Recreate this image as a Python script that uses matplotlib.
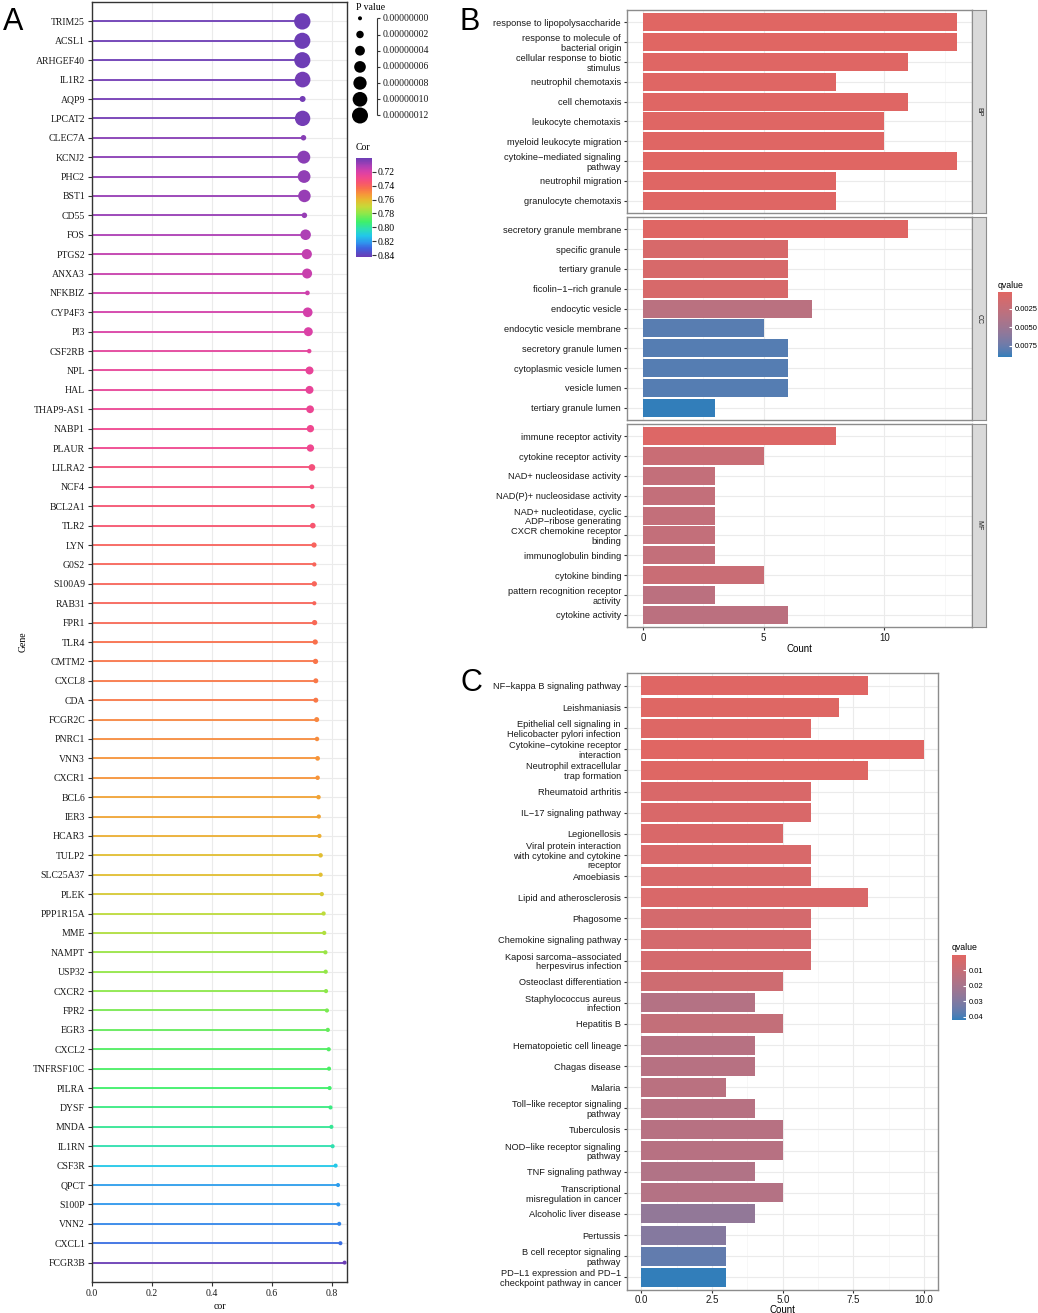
import numpy as np
import matplotlib
matplotlib.use('Agg')
import matplotlib.pyplot as plt
from matplotlib.colors import (LinearSegmentedColormap, ListedColormap,
                               Normalize, to_rgb)
from matplotlib.cm import ScalarMappable
from matplotlib.ticker import MultipleLocator, FormatStrFormatter

# ---- panel A data: genes, correlation, p value
genes = ['TRIM25', 'ACSL1', 'ARHGEF40', 'IL1R2', 'AQP9', 'LPCAT2', 'CLEC7A',
         'KCNJ2', 'PHC2', 'BST1', 'CD55', 'FOS', 'PTGS2', 'ANXA3', 'NFKBIZ',
         'CYP4F3', 'PI3', 'CSF2RB', 'NPL', 'HAL', 'THAP9-AS1', 'NABP1',
         'PLAUR', 'LILRA2', 'NCF4', 'BCL2A1', 'TLR2', 'LYN', 'G0S2', 'S100A9',
         'RAB31', 'FPR1', 'TLR4', 'CMTM2', 'CXCL8', 'CDA', 'FCGR2C', 'PNRC1',
         'VNN3', 'CXCR1', 'BCL6', 'IER3', 'HCAR3', 'TULP2', 'SLC25A37', 'PLEK',
         'PPP1R15A', 'MME', 'NAMPT', 'USP32', 'CXCR2', 'FPR2', 'EGR3', 'CXCL2',
         'TNFRSF10C', 'PILRA', 'DYSF', 'MNDA', 'IL1RN', 'CSF3R', 'QPCT',
         'S100P', 'VNN2', 'CXCL1', 'FCGR3B']
cor = [0.701, 0.701, 0.701, 0.702, 0.702, 0.702, 0.705, 0.706, 0.707, 0.708,
       0.708, 0.712, 0.716, 0.717, 0.718, 0.719, 0.721, 0.724, 0.725, 0.725,
       0.727, 0.728, 0.728, 0.733, 0.733, 0.735, 0.736, 0.740, 0.741, 0.741,
       0.741, 0.742, 0.744, 0.745, 0.746, 0.746, 0.749, 0.750, 0.752, 0.752,
       0.755, 0.756, 0.758, 0.762, 0.762, 0.766, 0.772, 0.774, 0.778, 0.779,
       0.780, 0.783, 0.786, 0.789, 0.790, 0.792, 0.795, 0.798, 0.802, 0.812,
       0.820, 0.821, 0.824, 0.828, 0.842]
pval = [1.25e-7, 1.22e-7, 1.22e-7, 1.15e-7, 1.0e-8, 1.1e-7, 7e-9, 7.6e-8,
        7.3e-8, 7.0e-8, 7e-9, 4.8e-8, 4.4e-8, 4.2e-8, 3e-9, 3.9e-8, 3.2e-8,
        2e-9, 2.4e-8, 2.4e-8, 2.2e-8, 1.9e-8, 1.9e-8, 1.45e-8, 3e-9, 3e-9,
        8e-9, 6e-9, 1e-9, 6e-9, 0.5e-9, 6e-9, 6e-9, 6e-9, 4.5e-9, 4.5e-9,
        4.5e-9, 2e-9, 3e-9, 2e-9, 2e-9, 1e-9, 1e-9, 2e-9, 1e-9, 1e-9, 1e-9,
        1e-9, 1e-9, 1e-9, 0.8e-9, 0.8e-9, 0.8e-9, 0.8e-9, 0.5e-9, 0.5e-9,
        0.5e-9, 0.5e-9, 0.5e-9, 0.5e-9, 0.3e-9, 0.3e-9, 0.3e-9, 0.3e-9, 0.1e-9]
p_breaks = [0, 2e-8, 4e-8, 6e-8, 8e-8, 1e-7, 1.2e-7]
cor_ticks = [0.72, 0.74, 0.76, 0.78, 0.80, 0.82, 0.84]

# ---- panel B data: GO terms per ontology
bp_terms = ['response to lipopolysaccharide',
            'response to molecule of\nbacterial origin',
            'cellular response to biotic\nstimulus', 'neutrophil chemotaxis',
            'cell chemotaxis', 'leukocyte chemotaxis',
            'myeloid leukocyte migration',
            'cytokine\u2212mediated signaling\npathway', 'neutrophil migration',
            'granulocyte chemotaxis']
bp_count = [13, 13, 11, 8, 11, 10, 10, 13, 8, 8]
bp_q = [0.0002, 0.0002, 0.0003, 0.0003, 0.0003, 0.0003, 0.0003, 0.0002,
        0.0003, 0.0003]
cc_terms = ['secretory granule membrane', 'specific granule',
            'tertiary granule', 'ficolin\u22121\u2212rich granule',
            'endocytic vesicle', 'endocytic vesicle membrane',
            'secretory granule lumen', 'cytoplasmic vesicle lumen',
            'vesicle lumen', 'tertiary granule lumen']
cc_count = [11, 6, 6, 6, 7, 5, 6, 6, 6, 3]
cc_q = [0.0003, 0.0009, 0.0009, 0.0009, 0.0031, 0.0081, 0.0082, 0.0082,
        0.0082, 0.0090]
mf_terms = ['immune receptor activity', 'cytokine receptor activity',
            'NAD+ nucleosidase activity', 'NAD(P)+ nucleosidase activity',
            'NAD+ nucleotidase, cyclic\nADP\u2212ribose generating',
            'CXCR chemokine receptor\nbinding', 'immunoglobulin binding',
            'cytokine binding', 'pattern recognition receptor\nactivity',
            'cytokine activity']
mf_count = [8, 5, 3, 3, 3, 3, 3, 5, 3, 6]
mf_q = [0.0005, 0.0020, 0.0025, 0.0025, 0.0025, 0.0025, 0.0025, 0.0020,
        0.0030, 0.0030]
facet_names = ['BP', 'CC', 'MF']
q_ticks_b = [0.0025, 0.0050, 0.0075]

# ---- panel C data: KEGG pathways
kegg_terms = ['NF\u2212kappa B signaling pathway', 'Leishmaniasis',
              'Epithelial cell signaling in\nHelicobacter pylori infection',
              'Cytokine\u2212cytokine receptor\ninteraction',
              'Neutrophil extracellular\ntrap formation',
              'Rheumatoid arthritis', 'IL\u221217 signaling pathway',
              'Legionellosis',
              'Viral protein interaction\nwith cytokine and cytokine\nreceptor',
              'Amoebiasis', 'Lipid and atherosclerosis', 'Phagosome',
              'Chemokine signaling pathway',
              'Kaposi sarcoma\u2212associated\nherpesvirus infection',
              'Osteoclast differentiation',
              'Staphylococcus aureus\ninfection', 'Hepatitis B',
              'Hematopoietic cell lineage', 'Chagas disease', 'Malaria',
              'Toll\u2212like receptor signaling\npathway', 'Tuberculosis',
              'NOD\u2212like receptor signaling\npathway',
              'TNF signaling pathway',
              'Transcriptional\nmisregulation in cancer',
              'Alcoholic liver disease', 'Pertussis',
              'B cell receptor signaling\npathway',
              'PD\u2212L1 expression and PD\u22121\ncheckpoint pathway in cancer']
kegg_count = [8, 7, 6, 10, 8, 6, 6, 5, 6, 6, 8, 6, 6, 6, 5, 4, 5, 4, 4, 3, 4,
              5, 5, 4, 5, 4, 3, 3, 3]
kegg_q = [0.0008, 0.0010, 0.0015, 0.0003, 0.0010, 0.0030, 0.0030, 0.0030,
          0.0035, 0.0035, 0.0030, 0.0050, 0.0050, 0.0050, 0.0070, 0.0160,
          0.0110, 0.0150, 0.0150, 0.0140, 0.0150, 0.0150, 0.0150, 0.0170,
          0.0160, 0.0260, 0.0290, 0.0360, 0.0420]
q_ticks_c = [0.01, 0.02, 0.03, 0.04]

W, H = 1038, 1313
SERIF = 'Liberation Serif'
SANS = 'Liberation Sans'
plt.rcParams['font.family'] = [SANS, 'DejaVu Sans']


def box(left, top, right, bottom):
    """pixel box -> figure fraction rect"""
    return [left / W, 1 - bottom / H, (right - left) / W, (bottom - top) / H]


def psize(p):
    # area linear in p, 4 px dot at 0, ~16 px at 1.2e-7
    return 0.5184 * (16 + np.asarray(p) * 2e9)


# sRGB <-> CIELAB, ggplot interpolates gradients in Lab
_M = np.array([[0.4124, 0.3576, 0.1805],
               [0.2126, 0.7152, 0.0722],
               [0.0193, 0.1192, 0.9505]])
_WHITE = np.array([0.95047, 1.0, 1.08883])


def to_lab(c):
    rgb = np.array(to_rgb(c))
    lin = np.where(rgb <= 0.04045, rgb / 12.92, ((rgb + 0.055) / 1.055) ** 2.4)
    t = _M @ lin / _WHITE
    f = np.where(t > 0.008856, np.cbrt(t), 7.787 * t + 16 / 116)
    return np.array([116 * f[1] - 16, 500 * (f[0] - f[1]), 200 * (f[1] - f[2])])


def from_lab(lab):
    fy = (lab[..., 0] + 16) / 116
    f = np.stack([fy + lab[..., 1] / 500, fy, fy - lab[..., 2] / 200], -1)
    t = np.where(f > 0.2069, f ** 3, (f - 16 / 116) / 7.787) * _WHITE
    lin = t @ np.linalg.inv(_M).T
    lin = np.clip(lin, 0, 1)
    rgb = np.where(lin <= 0.0031308, 12.92 * lin,
                   1.055 * lin ** (1 / 2.4) - 0.055)
    return np.clip(rgb, 0, 1)


def lab_ramp(c0, c1, n=256):
    a, b = to_lab(c0), to_lab(c1)
    w = np.linspace(0, 1, n)[:, None]
    return ListedColormap(from_lab(a + (b - a) * w))


cor_colors = ['#6a3db5', '#b03fb5', '#d940a8', '#f0478f', '#f7566e',
              '#f9704c', '#f7953a', '#e8b830', '#c8d838', '#8ee84a',
              '#3ef06a', '#2ee0b0', '#22c8e8', '#2f95ee', '#3d63df',
              '#6a3db5']
cor_pos = [0.700, 0.712, 0.720, 0.728, 0.736, 0.744, 0.752, 0.760, 0.770,
           0.780, 0.792, 0.802, 0.812, 0.822, 0.830, 0.842]
cmin, cmax = cor_pos[0], cor_pos[-1]
cmap_cor = LinearSegmentedColormap.from_list(
    'cor', [((v - cmin) / (cmax - cmin), c) for v, c in zip(cor_pos, cor_colors)])
norm_cor = Normalize(cmin, cmax)
cmap_q = lab_ramp('#e06663', '#327eba')

fig = plt.figure(figsize=(W / 100, H / 100), dpi=100)

# ================= panel A
axa = fig.add_axes(box(92, 2, 347, 1282))
y = np.arange(len(genes))
cols = cmap_cor(norm_cor(cor))
axa.hlines(y, 0, cor, colors=cols, lw=1.3, zorder=2)
axa.scatter(cor, y, s=psize(pval), c=cols, lw=0, zorder=3, clip_on=False)
axa.set_xlim(0, 0.85)
axa.set_ylim(len(genes), -1)
axa.set_xticks([0, 0.2, 0.4, 0.6, 0.8], ['0.0', '0.2', '0.4', '0.6', '0.8'],
               family=SERIF, fontsize=7)
axa.set_yticks(y, genes, family=SERIF, fontsize=7)
axa.grid(True, color='#ebebeb', lw=0.8)
axa.set_axisbelow(True)
for s in axa.spines.values():
    s.set_color('#333333')
    s.set_linewidth(1.0)
axa.tick_params(length=3, color='#333333', labelcolor='#1a1a1a', pad=2)
axa.set_xlabel('cor', family=SERIF, fontsize=7, labelpad=3)
axa.set_ylabel('Gene', family=SERIF, fontsize=7, labelpad=4)

# size legend (P value)
axl = fig.add_axes(box(345, 0, 470, 130))
axl.set_xlim(345, 470)
axl.set_ylim(130, 0)
axl.axis('off')
ly = 18.3 + 16.2 * np.arange(len(p_breaks))
axl.scatter(np.full(len(p_breaks), 360), ly, s=psize(p_breaks), c='black',
            lw=0, clip_on=False)
axl.vlines(377, ly[0], ly[-1], color='#333333', lw=0.8)
axl.hlines(ly, 377, 380, color='#333333', lw=0.8)
for yy, p in zip(ly, p_breaks):
    axl.text(383, yy, '%.8f' % p, va='center', ha='left', family=SERIF,
             fontsize=7, color='#1a1a1a')
axl.text(356, 8, 'P value', va='center', ha='left', family=SERIF, fontsize=7)

# colour legend (Cor)
caxa = fig.add_axes(box(355.7, 157.7, 371.7, 256.7))
cba = fig.colorbar(ScalarMappable(norm_cor, cmap_cor), cax=caxa,
                   ticks=cor_ticks)
cba.outline.set_visible(False)
caxa.invert_yaxis()
caxa.yaxis.set_major_formatter(FormatStrFormatter('%.2f'))
caxa.tick_params(length=3, width=0.8, color='#333333', labelsize=7, pad=1)
for lab in caxa.get_yticklabels():
    lab.set_family(SERIF)
fig.text(356 / W, 1 - 148 / H, 'Cor', family=SERIF, fontsize=7, va='center')


def style_bar_axis(ax, minor):
    ax.set_facecolor('white')
    for s in ax.spines.values():
        s.set_color('#8c8c8c')
        s.set_linewidth(1.0)
    ax.xaxis.set_minor_locator(MultipleLocator(minor))
    ax.grid(True, which='major', color='#ebebeb', lw=0.8)
    ax.grid(True, which='minor', axis='x', color='#f4f4f4', lw=0.5)
    ax.set_axisbelow(True)
    ax.tick_params(axis='both', which='major', length=2.5, color='#333333',
                   labelsize=6.7, labelcolor='#1a1a1a', pad=2)
    ax.tick_params(which='minor', length=0)


# ================= panel B
facets = [(bp_terms, bp_count, bp_q), (cc_terms, cc_count, cc_q),
          (mf_terms, mf_count, mf_q)]
qb_all = bp_q + cc_q + mf_q
norm_b = Normalize(min(qb_all), max(qb_all))
tops = [10.3, 217.3, 424.3]
for k, (terms, cnt, q) in enumerate(facets):
    top, bot = tops[k], tops[k] + 202.4
    ax = fig.add_axes(box(627.3, top, 972.3, bot))
    yy = np.arange(len(terms))
    ax.barh(yy, cnt, height=0.9, color=cmap_q(norm_b(q)), zorder=2)
    ax.set_xlim(-0.65, 13.65)
    ax.set_ylim(len(terms) - 0.4, -0.6)
    ax.set_xticks([0, 5, 10])
    ax.set_yticks(yy, terms, linespacing=1.1)
    style_bar_axis(ax, 2.5)
    if k < 2:
        ax.tick_params(axis='x', labelbottom=False, length=0)
    else:
        ax.set_xlabel('Count', fontsize=7, labelpad=1)
        ax.tick_params(axis='x', labelsize=7)
    axs = fig.add_axes(box(972.3, top, 985.7, bot))
    axs.set_facecolor('#d9d9d9')
    axs.set_xticks([])
    axs.set_yticks([])
    for s in axs.spines.values():
        s.set_color('#8c8c8c')
    axs.text(0.5, 0.5, facet_names[k], rotation=-90, ha='center',
             va='center', fontsize=5, color='#1a1a1a', transform=axs.transAxes)

caxb = fig.add_axes(box(998, 292, 1012, 357))
cbb = fig.colorbar(ScalarMappable(norm_b, cmap_q), cax=caxb, ticks=q_ticks_b)
cbb.outline.set_visible(False)
caxb.invert_yaxis()
caxb.yaxis.set_major_formatter(FormatStrFormatter('%.4f'))
caxb.tick_params(length=2.5, direction='in', color='white', labelsize=5.5,
                 pad=2)
fig.text(998 / W, 1 - 285 / H, 'qvalue', fontsize=6.3, va='center')

# ================= panel C
axc = fig.add_axes(box(627.3, 673.3, 938.3, 1290))
yc = np.arange(len(kegg_terms))
norm_c = Normalize(min(kegg_q), max(kegg_q))
axc.barh(yc, kegg_count, height=0.9, color=cmap_q(norm_c(kegg_q)), zorder=2)
axc.set_xlim(-0.5, 10.5)
axc.set_ylim(len(kegg_terms) - 0.4, -0.6)
axc.set_xticks([0, 2.5, 5, 7.5, 10])
axc.xaxis.set_major_formatter(FormatStrFormatter('%.1f'))
axc.set_yticks(yc, kegg_terms, linespacing=1.1)
style_bar_axis(axc, 1.25)
axc.tick_params(axis='x', labelsize=7, pad=1)
axc.set_xlabel('Count', fontsize=7, labelpad=0)

caxc = fig.add_axes(box(952, 955, 966, 1020))
cbc = fig.colorbar(ScalarMappable(norm_c, cmap_q), cax=caxc, ticks=q_ticks_c)
cbc.outline.set_visible(False)
caxc.invert_yaxis()
caxc.yaxis.set_major_formatter(FormatStrFormatter('%.2f'))
caxc.tick_params(length=2.5, direction='in', color='white', labelsize=5.5,
                 pad=2)
fig.text(952 / W, 1 - 947 / H, 'qvalue', fontsize=6.3, va='center')

# panel letters
fig.text(3 / W, 1 - 22 / H, 'A', fontsize=22, va='center', ha='left')
fig.text(460 / W, 1 - 22 / H, 'B', fontsize=22, va='center', ha='left')
fig.text(460 / W, 1 - 683 / H, 'C', fontsize=22, va='center', ha='left')

fig.savefig('out.png', dpi=100)
